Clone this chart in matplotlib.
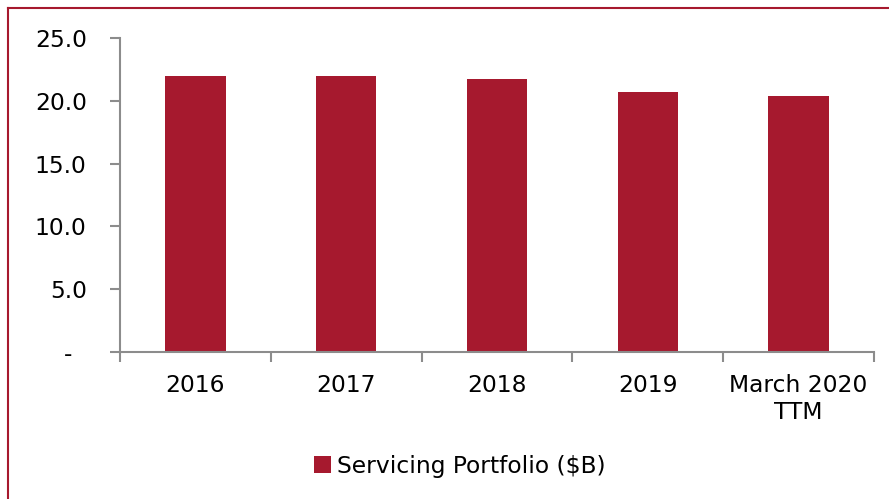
import matplotlib.pyplot as plt
from matplotlib.lines import Line2D
from matplotlib.patches import Patch

# data
categories = ["2016", "2017", "2018", "2019", "March 2020\nTTM"]
portfolio_b = [22.0, 22.0, 21.7, 20.7, 20.4]
y_ticks = [0, 5, 10, 15, 20, 25]
y_tick_labels = ["-  ", "5.0", "10.0", "15.0", "20.0", "25.0"]
series_name = "Servicing Portfolio ($B)"

BAR = "#A6192E"
AXIS = "#8C8C8C"
FS = 16.8

plt.rcParams["font.family"] = ["DejaVu Sans"]

fig = plt.figure(figsize=(8.89, 4.99), dpi=100)
ax = fig.add_axes([120 / 889, 1 - 352 / 499, (874 - 120) / 889, (352 - 38) / 499])

x = list(range(len(categories)))
ax.bar(x, portfolio_b, width=0.4, color=BAR, zorder=2)

ax.set_xlim(-0.5, len(categories) - 0.5)
ax.set_ylim(0, 25)
ax.set_yticks(y_ticks)
ax.set_yticklabels(y_tick_labels, fontsize=FS)

# category labels centred, ticks on boundaries
ax.set_xticks(x)
ax.set_xticklabels(categories, fontsize=FS, linespacing=1.2)
ax.tick_params(axis="x", which="major", length=0, pad=16)
ax.set_xticks([i - 0.5 for i in range(len(categories) + 1)], minor=True)
ax.tick_params(axis="x", which="minor", length=7, width=1.5, color=AXIS, direction="out")
ax.tick_params(axis="y", length=7, width=1.5, color=AXIS, direction="out", pad=17)

for side in ("top", "right"):
    ax.spines[side].set_visible(False)
for side in ("left", "bottom"):
    ax.spines[side].set_color(AXIS)
    ax.spines[side].set_linewidth(1.5)

fig.legend(
    handles=[Patch(facecolor=BAR, edgecolor="none", label=series_name)],
    loc="center",
    bbox_to_anchor=(0.517, 1 - 466 / 499),
    frameon=False,
    fontsize=FS,
    handlelength=0.75,
    handleheight=0.75,
    handletextpad=0.25,
)

# red frame along top and left edges
fig.add_artist(Line2D([8 / 889, 1.0], [1 - 8 / 499, 1 - 8 / 499], transform=fig.transFigure, color=BAR, linewidth=1.5))
fig.add_artist(Line2D([8 / 889, 8 / 889], [0.0, 1 - 8 / 499], transform=fig.transFigure, color=BAR, linewidth=1.5))

fig.savefig("out.png", dpi=100)
